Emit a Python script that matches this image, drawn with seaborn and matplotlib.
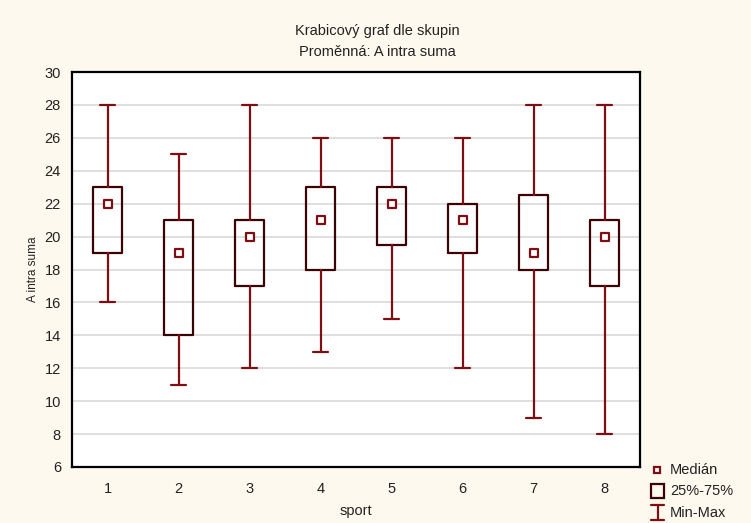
import matplotlib
matplotlib.use("Agg")
import matplotlib.pyplot as plt
import seaborn as sns
import pandas as pd
from matplotlib.lines import Line2D
from matplotlib.patches import Rectangle

# Five-number summaries of "A intra suma" per sport group
sports = [1, 2, 3, 4, 5, 6, 7, 8]
mins = [16, 11, 12, 13, 15, 12, 9, 8]
q1s = [19, 14, 17, 18, 19.5, 19, 18, 17]
medians = [22, 19, 20, 21, 22, 21, 19, 20]
q3s = [23, 21, 21, 23, 23, 22, 22.5, 21]
maxs = [28, 25, 28, 26, 26, 26, 28, 28]
y_ticks = [6, 8, 10, 12, 14, 16, 18, 20, 22, 24, 26, 28, 30]

box_color = "#3a0306"
whisk_color = "#7d0f14"
bg = "#fdf9ee"
txt_color = "#222222"
fs = 10.5

sns.set_theme(style="white")
plt.rcParams["font.family"] = ["Liberation Sans", "DejaVu Sans"]

fig = plt.figure(figsize=(7.51, 5.23), dpi=100, facecolor=bg)
ax = fig.add_axes([72 / 751, 1 - 467 / 523, 568 / 751, 395 / 523])
ax.set_facecolor("white")

stats = [
    dict(med=m, q1=a, q3=b, whislo=lo, whishi=hi, fliers=[], label=str(s))
    for s, lo, a, m, b, hi in zip(sports, mins, q1s, medians, q3s, maxs)
]
ax.bxp(
    stats, positions=sports, widths=0.41, showfliers=False, patch_artist=False,
    boxprops=dict(color=box_color, linewidth=1.6),
    whiskerprops=dict(color=whisk_color, linewidth=1.6),
    capprops=dict(color=whisk_color, linewidth=1.6),
    medianprops=dict(visible=False),
    capwidths=0.21,
    zorder=3,
)

df = pd.DataFrame({"sport": sports, "median": medians})
sns.scatterplot(data=df, x="sport", y="median", ax=ax, marker="s", s=28,
                facecolor="white", edgecolor=whisk_color, linewidth=1.6,
                zorder=4, legend=False)

ax.set_xlim(0.5, 8.5)
ax.set_ylim(6, 30)
ax.set_xticks(sports)
ax.set_xticklabels([str(s) for s in sports])
ax.set_yticks(y_ticks)
ax.yaxis.grid(True, color="#d9d9d9", linewidth=1.2, zorder=0)
ax.xaxis.grid(False)
ax.set_axisbelow(True)
for sp in ax.spines.values():
    sp.set_color("black")
    sp.set_linewidth(1.6)
ax.tick_params(axis="both", direction="in", length=4, width=1, colors="black",
               labelsize=fs, labelcolor=txt_color, pad=8)
ax.tick_params(axis="x", pad=11)
ax.tick_params(top=False, right=False)
ax.set_xlabel("sport", fontsize=fs, color=txt_color)
ax.xaxis.set_label_coords(0.5, -37 / 395)
ax.set_ylabel("A intra suma", fontsize=8.5, color=txt_color)
ax.yaxis.set_label_coords(-33 / 568, 0.5)

fig.text(377 / 751, 1 - 31 / 523, "Krabicový graf dle skupin", ha="center",
         va="center", fontsize=fs, color=txt_color)
fig.text(377 / 751, 1 - 52 / 523, "Proměnná: A intra suma", ha="center",
         va="center", fontsize=fs, color=txt_color)

# Legend drawn outside the plot area at bottom right
fig.add_artist(Line2D([657 / 751], [1 - 470 / 523], marker="s", markersize=5,
                      markerfacecolor="white", markeredgecolor=whisk_color,
                      markeredgewidth=1.6, linestyle="none",
                      transform=fig.transFigure))
fig.add_artist(Rectangle((651 / 751, 1 - 498 / 523), 13 / 751, 14 / 523,
                         fill=False, edgecolor=box_color, linewidth=1.6,
                         transform=fig.transFigure))
fig.add_artist(Line2D([657.5 / 751] * 2, [1 - 505 / 523, 1 - 520 / 523],
                      color=whisk_color, linewidth=1.6, transform=fig.transFigure))
for yy in (505, 520):
    fig.add_artist(Line2D([651 / 751, 664 / 751], [1 - yy / 523] * 2,
                          color=whisk_color, linewidth=1.6,
                          transform=fig.transFigure))
for yy, txt in ((470, "Medián"), (491, "25%-75%"), (513, "Min-Max")):
    fig.text(670 / 751, 1 - yy / 523, txt, ha="left", va="center",
             fontsize=fs, color=txt_color)

fig.savefig("out.png", dpi=100, facecolor=bg)
